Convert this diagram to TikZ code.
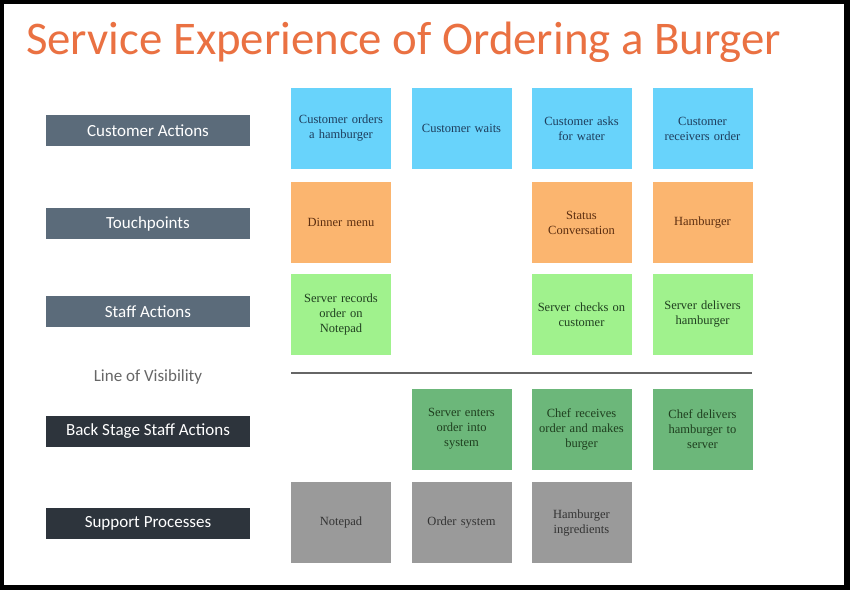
\documentclass[tikz,border=0pt]{standalone}
\usepackage{fontspec}
\setmainfont{Liberation Serif}
\newfontfamily\labelfont{Carlito}
\definecolor{titleor}{HTML}{EA7142}
\definecolor{slate}{HTML}{5B6B7A}
\definecolor{darkslate}{HTML}{2D343C}
\definecolor{noteblue}{HTML}{68D3FB}
\definecolor{noteorange}{HTML}{FBB56F}
\definecolor{notelgreen}{HTML}{A0F28D}
\definecolor{notegreen}{HTML}{6CB77A}
\definecolor{notegray}{HTML}{9A9A9A}
\definecolor{txtblue}{HTML}{1E3D5C}
\definecolor{txtbrown}{HTML}{5C2E10}
\definecolor{txtgreen}{HTML}{1F3F1F}
\definecolor{txtgray}{HTML}{333333}
\definecolor{visline}{HTML}{666666}
\tikzset{
  lanelabel/.style={minimum width=204pt, minimum height=31pt, inner sep=0pt,
    text=white, font=\labelfont\fontsize{17}{19}\selectfont, anchor=center},
  note/.style={minimum width=100pt, minimum height=81pt, inner sep=0pt,
    align=center, text width=94pt, font=\fontsize{12.5}{15}\selectfont, anchor=center},
  bluenote/.style={note, fill=noteblue, text=txtblue},
  orangenote/.style={note, fill=noteorange, text=txtbrown},
  lgreennote/.style={note, fill=notelgreen, text=txtgreen},
  greennote/.style={note, fill=notegreen, text=txtgreen},
  graynote/.style={note, fill=notegray, text=txtgray}
}
\begin{document}
\begin{tikzpicture}[x=1pt,y=-1pt]
\fill[black] (0,0) rectangle (850,590);
\fill[white] (4,4) rectangle (844,585);
\useasboundingbox (0,0) rectangle (850,590);

\node[anchor=west, text=titleor, font=\labelfont\fontsize{46.8}{52}\selectfont, inner sep=0pt] (title) at (26,42) {Service Experience of Ordering a Burger};

\node[lanelabel, fill=slate] (lca) at (148,130.5) {Customer Actions};
\node[lanelabel, fill=slate] (ltp) at (148,223.5) {Touchpoints};
\node[lanelabel, fill=slate] (lsa) at (148,311.5) {Staff Actions};
\node[text=visline, font=\labelfont\fontsize{17}{19}\selectfont, inner sep=0pt] (lvis) at (148,377) {Line of Visibility};
\node[lanelabel, fill=darkslate] (lbs) at (148,431.5) {Back Stage Staff Actions};
\node[lanelabel, fill=darkslate] (lsp) at (148,523.5) {Support Processes};

% row 1
\node[bluenote] (c1) at (341,128.5) {Customer orders\\a hamburger\\[6pt]};
\node[bluenote] (c2) at (461.5,128.5) {Customer waits\\[4pt]};
\node[bluenote] (c3) at (581.5,128.5) {Customer asks\\for water\\[6pt]};
\node[bluenote] (c4) at (702.5,128.5) {Customer\\receivers order\\[6pt]};
% row 2
\node[orangenote] (t1) at (341,222.5) {Dinner menu\\[4pt]};
\node[orangenote] (t3) at (581.5,222.5) {Status\\Conversation\\[4pt]};
\node[orangenote] (t4) at (702.5,222.5) {Hamburger\\[4pt]};
% row 3
\node[lgreennote] (s1) at (341,314.5) {Server records\\order on\\Notepad};
\node[lgreennote] (s3) at (581.5,314.5) {Server checks on\\customer\\[6pt]};
\node[lgreennote] (s4) at (702.5,314.5) {Server delivers\\hamburger\\[6pt]};
% line of visibility
\coordinate (vl) at (291,373);
\coordinate (vr) at (752,373);
\draw[visline, line width=2.2pt] (vl) -- (vr);
% row 4
\node[greennote] (b2) at (461.5,429) {Server enters\\order into\\system};
\node[greennote] (b3) at (581.5,429) {Chef receives\\order and makes\\burger};
\node[greennote] (b4) at (702.5,429) {Chef delivers\\hamburger to\\server};
% row 5
\node[graynote] (p1) at (341,522.5) {Notepad\\[2pt]};
\node[graynote] (p2) at (461.5,522.5) {Order system\\[2pt]};
\node[graynote] (p3) at (581.5,522.5) {Hamburger\\ingredients\\[6pt]};
\end{tikzpicture}
\end{document}
